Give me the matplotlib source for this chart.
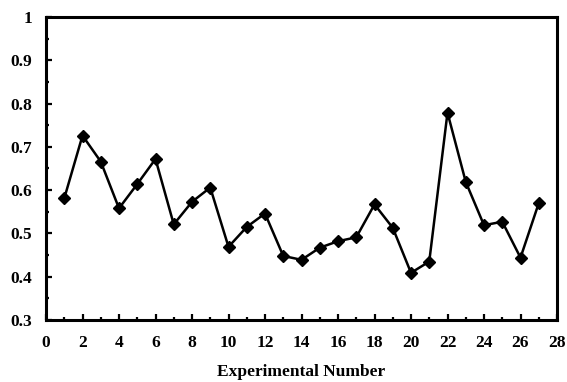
import matplotlib
matplotlib.use("Agg")
import matplotlib.pyplot as plt
from matplotlib.ticker import MultipleLocator

# Experimental runs and their measured response
experiment = list(range(1, 28))
response = [0.581, 0.726, 0.666, 0.558, 0.614, 0.672, 0.521, 0.573, 0.606,
            0.469, 0.515, 0.546, 0.448, 0.439, 0.467, 0.482, 0.491, 0.567,
            0.513, 0.409, 0.435, 0.779, 0.619, 0.519, 0.527, 0.444, 0.570]

plt.rcParams['font.family'] = ['Liberation Serif', 'DejaVu Serif']
plt.rcParams['font.weight'] = 'bold'

fig = plt.figure(figsize=(5.67, 3.82), dpi=100)
ax = fig.add_axes([46/567, 1 - 320/382, (557 - 46)/567, (320 - 17)/382])

ax.plot(experiment, response, color='black', linewidth=1.8,
        marker='D', markersize=6.5, markerfacecolor='black', markeredgecolor='black')

ax.set_xlim(0, 28)
ax.set_ylim(0.3, 1.0)
ax.xaxis.set_major_locator(MultipleLocator(2))
ax.xaxis.set_minor_locator(MultipleLocator(1))
ax.yaxis.set_major_locator(MultipleLocator(0.1))
ax.yaxis.set_minor_locator(MultipleLocator(0.05))
ax.yaxis.set_major_formatter(plt.FuncFormatter(
    lambda v, p: "1" if abs(v - 1) < 1e-9 else f"{v:.1f}"))

for s in ax.spines.values():
    s.set_linewidth(2.2)

ax.tick_params(which='major', direction='in', length=4, width=1.6, labelsize=12.5,
               top=False, right=False)
ax.tick_params(axis='x', which='major', pad=11)
ax.tick_params(axis='y', which='major', pad=10)
ax.tick_params(which='minor', direction='in', length=2.5, width=1.6,
               top=False, right=False)
for lbl in ax.get_xticklabels() + ax.get_yticklabels():
    lbl.set_fontweight('bold')

ax.set_xlabel('Experimental Number', fontsize=12.5, fontweight='bold', labelpad=9)

fig.savefig('out.png', dpi=100)
